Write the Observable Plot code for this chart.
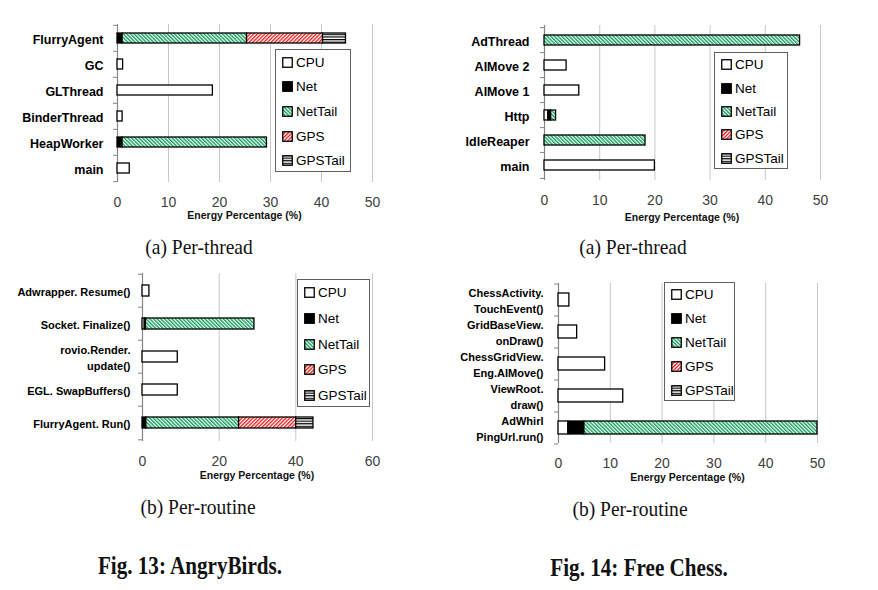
<!DOCTYPE html>
<html><head><meta charset="utf-8">
<script src="https://cdn.jsdelivr.net/npm/d3@7"></script>
<script src="https://cdn.jsdelivr.net/npm/@observablehq/plot@0.6"></script>
<style>
body{margin:0;background:#fff;}
#fig{position:relative;width:878px;height:590px;overflow:hidden;background:#fff;}
.legend{position:absolute;border:1px solid #606060;background:#fff;font-family:"Liberation Sans",Arial,sans-serif;font-size:13.5px;color:#000;box-sizing:border-box;}
.legend .row{position:absolute;left:6px;display:flex;align-items:center;height:18px;margin-top:-9px;white-space:nowrap;}
.legend svg{margin-right:3px;}
.cap{position:absolute;font-family:"Liberation Serif","Times New Roman",serif;white-space:nowrap;color:#111;}
.sub{font-size:21px;transform:translate(-50%,-50%) scaleX(0.93);}
.fig{font-size:24px;font-weight:bold;transform:translate(-50%,-50%) scaleX(0.88) scaleY(1.05);}
</style>
</head><body>
<svg width="0" height="0" style="position:absolute">
<defs>
<pattern id="pNetTail" patternUnits="userSpaceOnUse" width="2.6" height="2.6" patternTransform="rotate(-45)">
  <rect width="2.6" height="2.6" fill="#ffffff"/><rect width="1.4" height="2.6" fill="#12a05c"/>
</pattern>
<pattern id="pGPS" patternUnits="userSpaceOnUse" width="2.6" height="2.6" patternTransform="rotate(45)">
  <rect width="2.6" height="2.6" fill="#ffffff"/><rect width="1.3" height="2.6" fill="#f01818"/>
</pattern>
<pattern id="pGPSTail" patternUnits="userSpaceOnUse" width="4" height="2.6">
  <rect width="4" height="2.6" fill="#ffffff"/><rect width="4" height="1.2" fill="#000000"/>
</pattern>
</defs>
</svg>
<div id="fig"></div>
<script>
// ---- data ----
const series = ["CPU", "Net", "NetTail", "GPS", "GPSTail"];
const seriesFill = ["#ffffff", "#000000", "url(#pNetTail)", "url(#pGPS)", "url(#pGPSTail)"];

// Fig 13 (a) AngryBirds per-thread
const abThreads = ["FlurryAgent", "GC", "GLThread", "BinderThread", "HeapWorker", "main"];
const abThreadCPU     = [0,    1.1, 18.7, 1.0, 0,    2.4];
const abThreadNet     = [1.0,  0,   0,    0,   1.0,  0];
const abThreadNetTail = [24.4, 0,   0,    0,   28.3, 0];
const abThreadGPS     = [14.9, 0,   0,    0,   0,    0];
const abThreadGPSTail = [4.5,  0,   0,    0,   0,    0];

// Fig 14 (a) Free Chess per-thread
const fcThreads = ["AdThread", "AIMove 2", "AIMove 1", "Http", "IdleReaper", "main"];
const fcThreadCPU     = [0,    4.0, 6.3, 0.7, 0,    20.0];
const fcThreadNet     = [0,    0,   0,   0.5, 0,    0];
const fcThreadNetTail = [46.3, 0,   0,   0.9, 18.3, 0];
const fcThreadGPS     = [0,    0,   0,   0,   0,    0];
const fcThreadGPSTail = [0,    0,   0,   0,   0,    0];

// Fig 13 (b) AngryBirds per-routine
const abRoutines = ["Adwrapper. Resume()", "Socket. Finalize()", "rovio.Render.\nupdate()", "EGL. SwapBuffers()", "FlurryAgent. Run()"];
const abRoutineCPU     = [1.8, 0.6,  9.2, 9.2, 0];
const abRoutineNet     = [0,   0.3,  0,   0,   1.0];
const abRoutineNetTail = [0,   28.3, 0,   0,   24.2];
const abRoutineGPS     = [0,   0,    0,   0,   14.9];
const abRoutineGPSTail = [0,   0,    0,   0,   4.5];

// Fig 14 (b) Free Chess per-routine
const fcRoutines = ["ChessActivity.\nTouchEvent()", "GridBaseView.\nonDraw()", "ChessGridView.\nEng.AIMove()", "ViewRoot.\ndraw()", "AdWhirl\nPingUrl.run()"];
const fcRoutineCPU     = [2.1, 3.6, 9.0, 12.5, 1.9];
const fcRoutineNet     = [0,   0,   0,   0,    3.1];
const fcRoutineNetTail = [0,   0,   0,   0,    45.0];
const fcRoutineGPS     = [0,   0,   0,   0,    0];
const fcRoutineGPSTail = [0,   0,   0,   0,    0];

const xTicks50 = [0, 10, 20, 30, 40, 50];
const xTicks60 = [0, 20, 40, 60];
const xLabel = "Energy Percentage (%)";

// ---- drawing ----
const fig = document.getElementById("fig");
const SANS = "'Liberation Sans', Arial, sans-serif";

function panel(cfg) {
  const rows = [];
  cfg.cats.forEach((c, i) => series.forEach((s, j) => {
    const v = cfg.vals[j][i];
    if (v > 0) rows.push({cat: c, series: s, value: v});
  }));
  const n = cfg.cats.length;
  const plotW = cfg.width - cfg.ml - cfg.mr;
  const tickLen = cfg.xmax * 4 / plotW;
  const step = (cfg.height - cfg.mt - cfg.mb) / n;
  const bounds = cfg.cats.map((c) => ({cat: c, dy: -step / 2}));
  bounds.push({cat: cfg.cats[n - 1], dy: step / 2});
  const chart = Plot.plot({
    width: cfg.width, height: cfg.height,
    marginLeft: cfg.ml, marginRight: cfg.mr, marginTop: cfg.mt, marginBottom: cfg.mb,
    style: {fontFamily: SANS, background: "transparent", overflow: "visible"},
    x: {domain: [0, cfg.xmax]},
    y: {domain: cfg.cats, paddingInner: cfg.pad, paddingOuter: cfg.pad / 2},
    color: {domain: series, range: seriesFill},
    marks: [
      Plot.gridX(cfg.ticks.filter(t => t > 0), {stroke: "#c8c8c8", strokeOpacity: 1, strokeWidth: 1}),
      Plot.ruleX([0], {stroke: "#858585", strokeWidth: 1.2}),
      ...bounds.map(b => Plot.ruleY([b.cat], {y: d => d, x1: 0, x2: -tickLen, dy: b.dy, stroke: "#858585", strokeWidth: 1})),
      Plot.barX(rows, Plot.stackX({y: "cat", x: "value", fill: "series", stroke: "#000", strokeWidth: 1.3, order: null})),
      Plot.axisY({tickSize: 0, tickPadding: cfg.yPad, fontWeight: "bold", fontSize: cfg.yFont, fill: "#000", label: null, lineHeight: 1.45}),
      Plot.axisX(cfg.ticks, {tickSize: 0, tickPadding: cfg.xPad, fontSize: 14, fill: "#404040", label: null})
    ]
  });
  chart.style.position = "absolute";
  chart.style.left = cfg.left + "px";
  chart.style.top = cfg.top + "px";
  fig.appendChild(chart);
  // axis title
  const t = document.createElement("div");
  t.textContent = xLabel;
  t.style.cssText = `position:absolute;font-family:${SANS};font-weight:bold;font-size:10.5px;color:#111;white-space:nowrap;transform:translate(-50%,-50%);left:${cfg.left + cfg.ml + plotW / 2}px;top:${cfg.titleY}px;`;
  fig.appendChild(t);
}

function legend(box) {
  const d = document.createElement("div");
  d.className = "legend";
  d.style.left = box.x + "px"; d.style.top = box.y + "px";
  d.style.width = box.w + "px"; d.style.height = box.h + "px";
  series.forEach((s, i) => {
    const r = document.createElement("div");
    r.className = "row";
    r.style.top = (box.h * (0.1 + 0.2 * i)) + "px";
    r.innerHTML = `<svg width="11" height="11"><rect x="0.75" y="0.75" width="9.5" height="9.5" fill="${seriesFill[i]}" stroke="#000" stroke-width="1.3"/></svg><span>${s}</span>`;
    d.appendChild(r);
  });
  fig.appendChild(d);
}

function caption(text, x, y, cls) {
  const c = document.createElement("div");
  c.className = "cap " + cls;
  c.textContent = text;
  c.style.left = x + "px"; c.style.top = y + "px";
  fig.appendChild(c);
}

panel({left: 0, top: 0, width: 440, height: 222, ml: 117, mr: 68, mt: 24, mb: 40,
  cats: abThreads, vals: [abThreadCPU, abThreadNet, abThreadNetTail, abThreadGPS, abThreadGPSTail],
  xmax: 50, ticks: xTicks50, pad: 0.6, yPad: 14, yFont: 12.5, xPad: 15, titleY: 215});
panel({left: 440, top: 0, width: 438, height: 222, ml: 104, mr: 58, mt: 25, mb: 42,
  cats: fcThreads, vals: [fcThreadCPU, fcThreadNet, fcThreadNetTail, fcThreadGPS, fcThreadGPSTail],
  xmax: 50, ticks: xTicks50, pad: 0.6, yPad: 15, yFont: 12.5, xPad: 15, titleY: 217});
panel({left: 0, top: 262, width: 440, height: 222, ml: 142, mr: 68, mt: 11, mb: 43,
  cats: abRoutines, vals: [abRoutineCPU, abRoutineNet, abRoutineNetTail, abRoutineGPS, abRoutineGPSTail],
  xmax: 60, ticks: xTicks60, pad: 0.66, yPad: 12, yFont: 11, xPad: 15, titleY: 475});
panel({left: 440, top: 262, width: 438, height: 222, ml: 118, mr: 61, mt: 21, mb: 41,
  cats: fcRoutines, vals: [fcRoutineCPU, fcRoutineNet, fcRoutineNetTail, fcRoutineGPS, fcRoutineGPSTail],
  xmax: 50, ticks: xTicks50, pad: 0.6, yPad: 15, yFont: 11, xPad: 15, titleY: 477});

legend({x: 275, y: 49, w: 76, h: 123});
legend({x: 714, y: 52, w: 74, h: 117});
legend({x: 297, y: 279, w: 73, h: 128});
legend({x: 664, y: 282, w: 71, h: 119});

caption("(a)  Per-thread", 199, 247, "sub");
caption("(a)  Per-thread", 633, 247, "sub");
caption("(b)  Per-routine", 198, 507, "sub");
caption("(b)  Per-routine", 630, 509, "sub");
caption("Fig. 13: AngryBirds.", 190, 566, "fig");
caption("Fig. 14: Free Chess.", 639, 568, "fig");
</script>
</body></html>
